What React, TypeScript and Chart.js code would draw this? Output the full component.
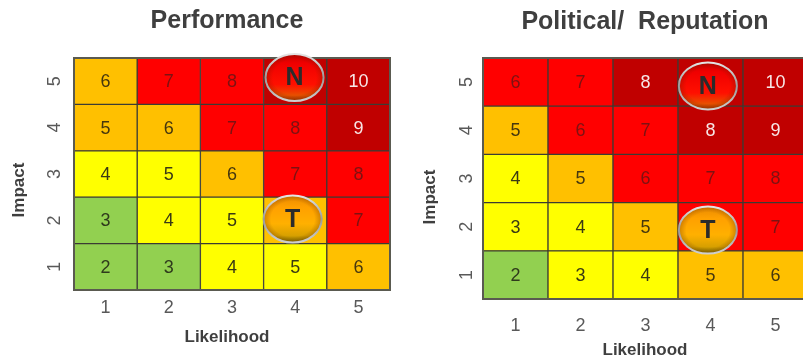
import React, { useEffect, useRef } from "react";
import { Chart, registerables } from "chart.js";

Chart.register(...registerables);

const likelihoodLabels = ["1", "2", "3", "4", "5"];
const impactLevels = [1, 2, 3, 4, 5];

// Risk scores, one row per impact level from 1 up to 5.
const scoreRows = [
  [2, 3, 4, 5, 6],
  [3, 4, 5, 6, 7],
  [4, 5, 6, 7, 8],
  [5, 6, 7, 8, 9],
  [6, 7, 8, 9, 10],
];

// Severity bands: G green, Y yellow, O amber, R red, D dark red.
const performanceBands = [
  ["G", "G", "Y", "Y", "O"],
  ["G", "Y", "Y", "O", "R"],
  ["Y", "Y", "O", "R", "R"],
  ["O", "O", "R", "R", "D"],
  ["O", "R", "R", "D", "D"],
];
const reputationBands = [
  ["G", "Y", "Y", "O", "O"],
  ["Y", "Y", "O", "R", "R"],
  ["Y", "O", "R", "R", "R"],
  ["O", "R", "R", "D", "D"],
  ["R", "R", "D", "D", "D"],
];

// Rating badges in chart units (likelihood, impact band position).
const performanceBadges = [
  { label: "N", likelihood: 3.99, impact: 4.58 },
  { label: "T", likelihood: 3.96, impact: 1.53 },
];
const reputationBadges = [
  { label: "N", likelihood: 3.96, impact: 4.42 },
  { label: "T", likelihood: 3.96, impact: 1.43 },
];

const bandFill: Record<string, string> = {
  G: "#92D050",
  Y: "#FFFF00",
  O: "#FFC000",
  R: "#FF0000",
  D: "#C00000",
};
const bandInk: Record<string, string> = {
  G: "#2f3a1c",
  Y: "#3a3a14",
  O: "#46370e",
  R: "#7c1212",
  D: "#f7e6e6",
};

const FONT = '"Liberation Sans", Arial, sans-serif';

type Badge = { label: string; likelihood: number; impact: number };
type PanelProps = {
  title: string;
  bands: string[][];
  badges: Badge[];
  left: number;
  width: number;
  height: number;
  area: { left: number; top: number; right: number; bottom: number };
  titleX: number;
  titleY: number;
  xTitleX: number;
  xTitleY: number;
  yTitleX: number;
  yTitleY: number;
  xTickPadding: number;
  yTickPadding: number;
};

function drawBadge(ctx: CanvasRenderingContext2D, cx: number, cy: number, label: string) {
  const rx = 29;
  const ry = 23.5;
  const isNow = label === "N";
  ctx.save();
  ctx.beginPath();
  ctx.ellipse(cx, cy, rx, ry, 0, 0, Math.PI * 2);
  const body = ctx.createLinearGradient(0, cy - ry, 0, cy + ry);
  if (isNow) {
    body.addColorStop(0, "#c80000");
    body.addColorStop(0.2, "#f00000");
    body.addColorStop(0.65, "#ff1000");
    body.addColorStop(0.88, "#e85000");
    body.addColorStop(1, "#a83a00");
  } else {
    body.addColorStop(0, "#e88a00");
    body.addColorStop(0.25, "#ffa000");
    body.addColorStop(0.6, "#ffb000");
    body.addColorStop(0.85, "#d8a000");
    body.addColorStop(1, "#807000");
  }
  ctx.fillStyle = body;
  ctx.fill();
  // Darkened rim gives the button its domed look.
  ctx.save();
  ctx.translate(cx, cy);
  ctx.scale(1, ry / rx);
  const rim = ctx.createRadialGradient(0, 0, rx * 0.75, 0, 0, rx);
  rim.addColorStop(0, "rgba(90,30,0,0)");
  rim.addColorStop(1, "rgba(90,30,0,0.3)");
  ctx.fillStyle = rim;
  ctx.beginPath();
  ctx.arc(0, 0, rx, 0, Math.PI * 2);
  ctx.fill();
  ctx.restore();
  // Metallic ring.
  const ring = ctx.createLinearGradient(0, cy - ry, 0, cy + ry);
  ring.addColorStop(0, "#e4e4e4");
  ring.addColorStop(0.5, "#9a9a9a");
  ring.addColorStop(1, "#cfcfcf");
  ctx.beginPath();
  ctx.ellipse(cx, cy, rx, ry, 0, 0, Math.PI * 2);
  ctx.lineWidth = 2;
  ctx.strokeStyle = ring;
  ctx.stroke();
  ctx.fillStyle = "#2b2b2b";
  ctx.font = `bold 25px ${FONT}`;
  ctx.textAlign = "center";
  ctx.textBaseline = "middle";
  ctx.fillText(label, cx, cy + 1);
  ctx.restore();
}

function Panel(props: PanelProps) {
  const ref = useRef<HTMLCanvasElement>(null);

  useEffect(() => {
    if (!ref.current) return;
    const { bands, badges, area, width, height } = props;

    const matrixOverlay = {
      id: "matrixOverlay",
      afterDatasetsDraw(chart: any) {
        const { ctx, scales, chartArea } = chart;
        const xs = scales.x;
        const ys = scales.y;
        ctx.save();
        ctx.strokeStyle = "#5a5a50";
        ctx.lineWidth = 2;
        ctx.strokeRect(
          chartArea.left,
          chartArea.top,
          chartArea.right - chartArea.left,
          chartArea.bottom - chartArea.top
        );
        ctx.font = `18px ${FONT}`;
        ctx.textAlign = "center";
        ctx.textBaseline = "middle";
        scoreRows.forEach((row, r) => {
          row.forEach((score, c) => {
            ctx.fillStyle = bandInk[bands[r][c]];
            ctx.fillText(String(score), xs.getPixelForValue(c), ys.getPixelForValue(r + 0.5) + 1);
          });
        });
        ctx.restore();
        badges.forEach((b) => {
          drawBadge(ctx, xs.getPixelForValue(b.likelihood - 1), ys.getPixelForValue(b.impact), b.label);
        });
      },
      afterDraw(chart: any) {
        const { ctx } = chart;
        ctx.save();
        ctx.textAlign = "center";
        ctx.textBaseline = "middle";
        ctx.fillStyle = "#3f3f3f";
        ctx.font = `bold 25px ${FONT}`;
        ctx.fillText(props.title, props.titleX, props.titleY);
        ctx.font = `bold 17px ${FONT}`;
        ctx.fillText("Likelihood", props.xTitleX, props.xTitleY);
        ctx.translate(props.yTitleX, props.yTitleY);
        ctx.rotate(-Math.PI / 2);
        ctx.fillText("Impact", 0, 0);
        ctx.restore();
      },
    };

    const chart = new Chart(ref.current, {
      type: "bar",
      data: {
        labels: likelihoodLabels,
        datasets: impactLevels.map((level, r) => ({
          label: `Impact ${level}`,
          data: likelihoodLabels.map(() => 1),
          backgroundColor: bands[r].map((b) => bandFill[b]),
          borderColor: "#3c3c34",
          borderWidth: 1,
          borderSkipped: false,
          barPercentage: 1,
          categoryPercentage: 1,
        })),
      },
      options: {
        animation: false,
        responsive: false,
        layout: { padding: { left: 0, top: area.top, right: width - area.right, bottom: 0 } },
        plugins: {
          legend: { display: false },
          title: { display: false },
          tooltip: { enabled: false },
        },
        scales: {
          x: {
            stacked: true,
            grid: { display: false, drawTicks: false },
            border: { display: false },
            afterFit(scale: any) {
              scale.height = height - area.bottom;
            },
            ticks: {
              padding: props.xTickPadding,
              color: "#595959",
              font: { family: FONT, size: 18 },
            },
          },
          y: {
            type: "linear",
            stacked: true,
            min: 0,
            max: 5,
            grid: { display: false, drawTicks: false },
            border: { display: false },
            afterFit(scale: any) {
              scale.width = area.left;
            },
            // Impact labels sit at the middle of each band.
            afterBuildTicks(scale: any) {
              scale.ticks = impactLevels.map((level) => ({ value: level - 0.5 }));
            },
            ticks: {
              padding: props.yTickPadding,
              color: "#595959",
              font: { family: FONT, size: 18 },
              minRotation: 90,
              maxRotation: 90,
              crossAlign: "center",
              callback: (value: any) => String(Number(value) + 0.5),
            },
          },
        },
      },
      plugins: [matrixOverlay],
    } as any);

    return () => chart.destroy();
  }, []);

  return (
    <canvas
      ref={ref}
      width={props.width}
      height={props.height}
      style={{ position: "absolute", left: props.left, top: 0, width: props.width, height: props.height }}
    />
  );
}

export default function App() {
  return (
    <div style={{ position: "fixed", left: 0, top: 0, width: 803, height: 361, overflow: "hidden", background: "#fff" }}>
      <Panel
        title="Performance"
        bands={performanceBands}
        badges={performanceBadges}
        left={0}
        width={401}
        height={361}
        area={{ left: 74, top: 58, right: 390, bottom: 290 }}
        titleX={227}
        titleY={21}
        xTitleX={227}
        xTitleY={337}
        yTitleX={19}
        yTitleY={190}
        xTickPadding={7}
        yTickPadding={14}
      />
      <Panel
        title="Political/  Reputation"
        bands={reputationBands}
        badges={reputationBadges}
        left={401}
        width={420}
        height={361}
        area={{ left: 82, top: 58, right: 407, bottom: 299 }}
        titleX={244}
        titleY={22}
        xTitleX={244}
        xTitleY={350}
        yTitleX={29}
        yTitleY={197}
        xTickPadding={16}
        yTickPadding={11}
      />
    </div>
  );
}
